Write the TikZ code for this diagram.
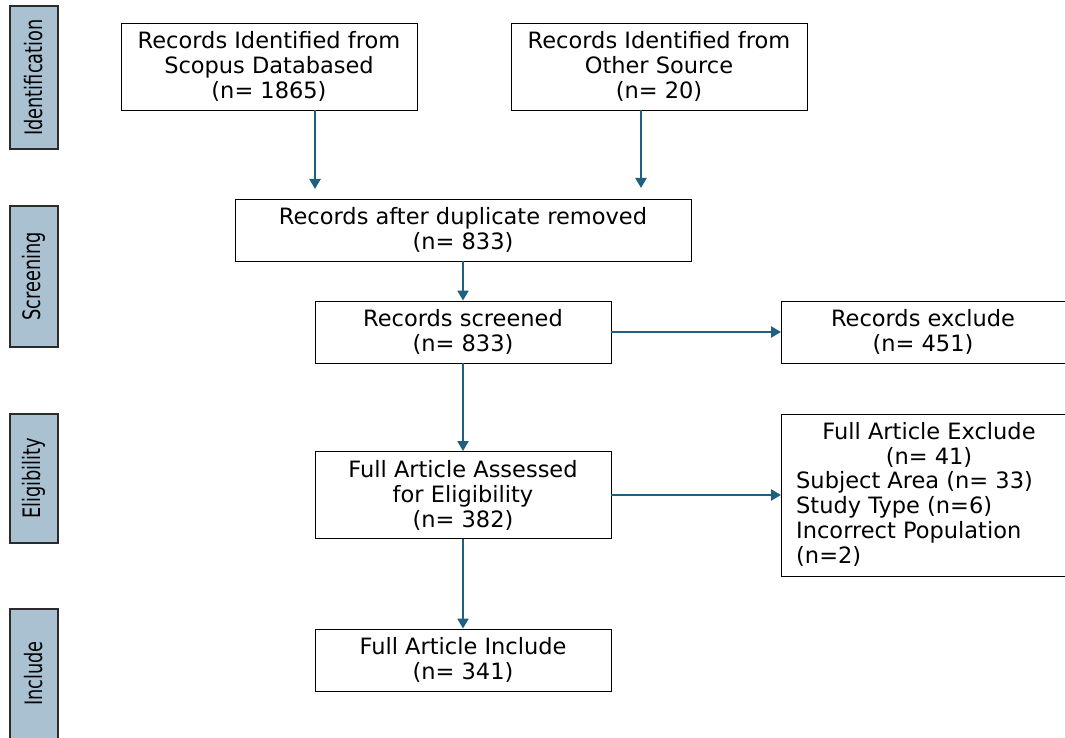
\documentclass[tikz,border=0pt]{standalone}
\usepackage{fontspec}
\setmainfont{DejaVu Sans}
\usetikzlibrary{arrows.meta}
\definecolor{arrowc}{HTML}{1F6080}
\definecolor{barfill}{HTML}{A9C1D1}
\definecolor{bardraw}{HTML}{2B2B2B}
\tikzset{
  box/.style={draw=black, line width=0.9pt, fill=white, inner sep=0pt, align=center,
    font=\fontsize{22.5}{25}\selectfont},
  bar/.style={draw=bardraw, line width=1.2pt, fill=barfill},
  barlabel/.style={rotate=90, inner sep=0pt, font=\fontsize{24}{26}\selectfont},
  txt/.style={inner sep=0pt, font=\fontsize{22.5}{25}\selectfont},
  flow/.style={draw=arrowc, line width=2.2pt, -{Triangle[length=10pt,width=11pt]}}
}
\newcommand{\narrow}[1]{\scalebox{0.74}[1]{#1}}
\begin{document}
\begin{tikzpicture}[x=1pt,y=-1pt]
\useasboundingbox (0,0) rectangle (1065,738);
% phase bars
\path[bar] (10,6) rectangle (58,149);
\node[barlabel] (lid) at (34,77.5) {\narrow{Identification}};
\path[bar] (10,206) rectangle (58,347);
\node[barlabel] (lsc) at (34,276.5) {\narrow{Screening}};
\path[bar] (10,414) rectangle (58,543);
\node[barlabel] (lel) at (34,478.5) {\narrow{Eligibility}};
\path[bar] (10,609) rectangle (58,760);
\node[barlabel] (lin) at (34,673.5) {\narrow{Include}};
% boxes
\node[box, minimum width=296pt, minimum height=87pt] (b1) at (269,66.5)
  {Records Identified from\\Scopus Databased\\(n= 1865)};
\node[box, minimum width=296pt, minimum height=87pt] (b2) at (659,66.5)
  {Records Identified from\\Other Source\\(n= 20)};
\node[box, minimum width=456pt, minimum height=62pt] (dup) at (463,230)
  {Records after duplicate removed\\(n= 833)};
\node[box, minimum width=296pt, minimum height=62pt] (scr) at (463,332)
  {Records screened\\(n= 833)};
\node[box, minimum width=300pt, minimum height=62pt, anchor=west] (rex) at (781,332) {};
\node[txt, align=center] (rext) at (923,332) {Records exclude\\(n= 451)};
\node[box, minimum width=296pt, minimum height=87pt] (fa) at (463,495)
  {Full Article Assessed\\for Eligibility\\(n= 382)};
\node[box, minimum width=300pt, minimum height=162pt, anchor=west] (fae) at (781,495) {};
\node[txt, align=center] (faet) at (929,444.5) {Full Article Exclude\\(n= 41)};
\node[txt, align=left, anchor=west] (fael) at (796,518.5)
  {Subject Area (n= 33)\\Study Type (n=6)\\Incorrect Population\\(n=2)};
\node[box, minimum width=296pt, minimum height=62pt] (inc) at (463,660)
  {Full Article Include\\(n= 341)};
% arrow ends
\coordinate (e1) at (315,189);
\coordinate (e2) at (641,188);
\draw[flow] (b1.south -| e1) -- (e1);
\draw[flow] (b2.south -| e2) -- (e2);
\draw[flow] (dup) -- (scr);
\draw[flow] (scr) -- (rex);
\draw[flow] (scr) -- (fa);
\draw[flow] (fa) -- (fae);
\draw[flow] (fa) -- (inc);
\end{tikzpicture}
\end{document}
